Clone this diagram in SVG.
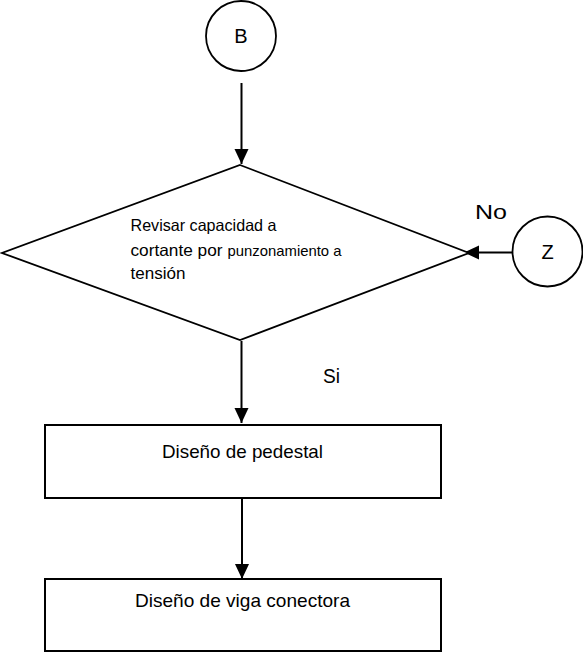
<svg xmlns="http://www.w3.org/2000/svg" width="583" height="653" viewBox="0 0 583 653">
<style>
.shape{fill:#fff;stroke:#000;stroke-width:2}
.thin{fill:#fff;stroke:#000;stroke-width:1.8}
.conn{fill:none;stroke:#000;stroke-width:2}
text{font-family:"Liberation Sans",Arial,sans-serif;fill:#000}
</style>
<defs>
<marker id="arr" markerUnits="userSpaceOnUse" markerWidth="16" markerHeight="16" viewBox="0 0 16 16" refX="15" refY="8" orient="auto">
<path d="M0,1 L15,8 L0,15 Z" fill="#000"/>
</marker>
</defs>
<rect width="583" height="653" fill="#fff"/>
<g id="connectors">
<line class="conn" x1="241.5" y1="83" x2="241.5" y2="164" marker-end="url(#arr)"/>
<line class="conn" x1="241.5" y1="341" x2="241.5" y2="423" marker-end="url(#arr)"/>
<line class="conn" x1="242" y1="499" x2="242" y2="579" marker-end="url(#arr)"/>
<line class="conn" x1="512" y1="252.5" x2="464" y2="252.5" marker-end="url(#arr)"/>
<text x="475" y="219" font-size="21" textLength="32" lengthAdjust="spacingAndGlyphs">No</text>
<text x="323" y="383" font-size="20" textLength="17" lengthAdjust="spacingAndGlyphs">Si</text>
</g>
<g id="nodeB">
<circle class="thin" cx="241" cy="36" r="35"/>
<text x="241" y="43" font-size="20" text-anchor="middle">B</text>
</g>
<g id="nodeDecision">
<polygon class="thin" points="240,165 469,253 240,340 2,253"/>
<text x="130.5" y="231" font-size="16.5" textLength="146" lengthAdjust="spacingAndGlyphs">Revisar capacidad a</text>
<text x="130.5" y="256" font-size="16.5" textLength="92" lengthAdjust="spacingAndGlyphs">cortante por</text>
<text x="227.5" y="256" font-size="14.5" textLength="114" lengthAdjust="spacingAndGlyphs">punzonamiento a</text>
<text x="130.5" y="279" font-size="16.5" textLength="55" lengthAdjust="spacingAndGlyphs">tensión</text>
</g>
<g id="nodeZ">
<circle class="thin" cx="547.5" cy="251.5" r="35"/>
<text x="547.5" y="259" font-size="20" text-anchor="middle">Z</text>
</g>
<g id="nodePedestal">
<rect class="shape" x="45" y="425" width="396" height="73"/>
<text x="162" y="458" font-size="18.5" textLength="161" lengthAdjust="spacingAndGlyphs">Diseño de pedestal</text>
</g>
<g id="nodeViga">
<rect class="shape" x="45" y="579" width="396" height="72"/>
<text x="135" y="607" font-size="18.5" textLength="215" lengthAdjust="spacingAndGlyphs">Diseño de viga conectora</text>
</g>
</svg>
